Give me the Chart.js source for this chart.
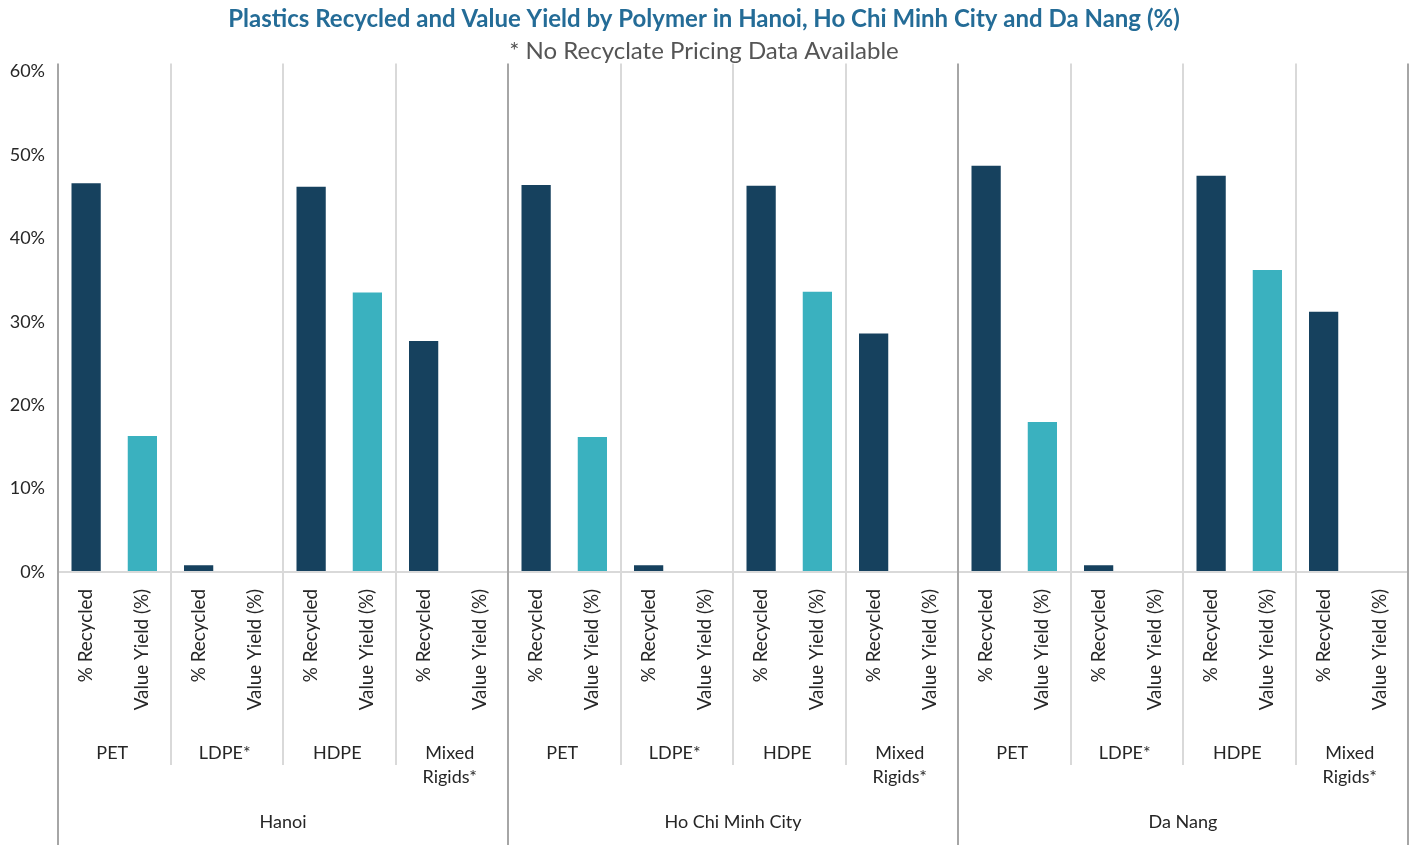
<!DOCTYPE html>
<html>
<head>
<meta charset="utf-8">
<script src="https://cdn.jsdelivr.net/npm/chart.js@4/dist/chart.umd.min.js"></script>
<style>
  html, body { margin: 0; padding: 0; background: #fff; }
  #wrap { width: 1414px; height: 845px; }
</style>
</head>
<body>
<div id="wrap"><canvas id="chart" width="1414" height="845"></canvas></div>
<script>
// Data
const cities = ['Hanoi', 'Ho Chi Minh City', 'Da Nang'];
const polymers = ['PET', 'LDPE*', 'HDPE', 'Mixed Rigids*'];
const barLabels = ['% Recycled', 'Value Yield (%)'];
// one value per city × polymer, in city order
const recycled   = [46.6, 0.8, 46.2, 27.7,  46.4, 0.8, 46.3, 28.6,  48.7, 0.8, 47.5, 31.2];
const valueYield = [16.3, 0,   33.5, 0,     16.2, 0,   33.6, 0,     18.0, 0,   36.2, 0];
const yTicks = [0, 10, 20, 30, 40, 50, 60];

const darkBlue = '#16415E';
const teal = '#3AB1BF';
const fontFamily = 'Lato, "Open Sans", sans-serif';

// 24 slots: each polymer gets a "% Recycled" slot and a "Value Yield" slot
const labels = [];
const recData = [];
const vyData = [];
recycled.forEach((v, i) => {
    labels.push(barLabels[0], barLabels[1]);
    recData.push(v, null);
    vyData.push(null, valueYield[i]);
});

// draws separators plus the polymer and city label rows
const groupLabels = {
    id: 'groupLabels',
    afterDraw(chart) {
        const x = chart.scales.x;
        const c = chart.ctx;
        const n = labels.length;
        const edge = i => {
            if (i === 0) return x.left;
            if (i === n) return x.right;
            return (x.getPixelForValue(i - 1) + x.getPixelForValue(i)) / 2;
        };
        const top = chart.chartArea.top - 8;
        c.save();
        c.lineWidth = 2;
        for (let k = 0; k <= n; k += 2) {
            const px = Math.round(edge(k));
            const isCity = k % 8 === 0;
            c.strokeStyle = isCity ? '#a6a6a6' : '#d9d9d9';
            c.beginPath();
            c.moveTo(px, top);
            c.lineTo(px, isCity ? chart.height : 765);
            c.stroke();
        }
        c.fillStyle = '#262626';
        c.textAlign = 'center';
        c.textBaseline = 'middle';
        c.font = '18px ' + fontFamily;
        for (let g = 0; g < n / 2; g++) {
            const cx = (edge(g * 2) + edge(g * 2 + 2)) / 2 - 2;
            const name = polymers[g % polymers.length];
            if (name === 'Mixed Rigids*') {
                c.fillText('Mixed', cx, 753);
                c.fillText('Rigids*', cx, 777);
            } else {
                c.fillText(name, cx, 753);
            }
        }
        cities.forEach((city, ci) => {
            const cx = (edge(ci * 8) + edge(ci * 8 + 8)) / 2;
            c.fillText(city, cx, 822);
        });
        c.restore();
    }
};

new Chart(document.getElementById('chart').getContext('2d'), {
    type: 'bar',
    data: {
        labels: labels,
        datasets: [
            { label: '% Recycled', data: recData, backgroundColor: darkBlue, skipNull: true },
            { label: 'Value Yield (%)', data: vyData, backgroundColor: teal, skipNull: true }
        ]
    },
    options: {
        responsive: false,
        animation: false,
        datasets: { bar: { categoryPercentage: 1, barPercentage: 0.52 } },
        layout: { padding: { left: 0, right: 6, top: 0, bottom: 0 } },
        plugins: {
            legend: { display: false },
            tooltip: { enabled: false },
            title: {
                display: true,
                text: 'Plastics Recycled and Value Yield by Polymer in Hanoi, Ho Chi Minh City and Da Nang (%)',
                color: '#246C97',
                font: { family: fontFamily, size: 24, weight: 'bold' },
                padding: { top: 5, bottom: 0 }
            },
            subtitle: {
                display: true,
                text: '* No Recyclate Pricing Data Available',
                color: '#555555',
                font: { family: fontFamily, size: 24 },
                padding: { top: 3, bottom: 6 }
            }
        },
        scales: {
            x: {
                grid: { display: false },
                border: { display: false },
                ticks: {
                    autoSkip: false,
                    minRotation: 90,
                    maxRotation: 90,
                    padding: 9,
                    color: '#262626',
                    font: { family: fontFamily, size: 18.8 }
                },
                afterFit(scale) { scale.height = 273; }
            },
            y: {
                min: 0,
                max: 60,
                afterBuildTicks(scale) { scale.ticks = yTicks.map(v => ({ value: v })); },
                grid: {
                    drawTicks: false,
                    lineWidth: 2,
                    color: ctx => ctx.tick && ctx.tick.value === 0 ? '#d9d9d9' : 'rgba(0,0,0,0)'
                },
                border: { display: false },
                ticks: {
                    padding: 13,
                    color: '#262626',
                    font: { family: fontFamily, size: 18 },
                    callback: v => v + '%'
                },
                afterFit(scale) { scale.width = 58; }
            }
        }
    },
    plugins: [groupLabels]
});
</script>
</body>
</html>
